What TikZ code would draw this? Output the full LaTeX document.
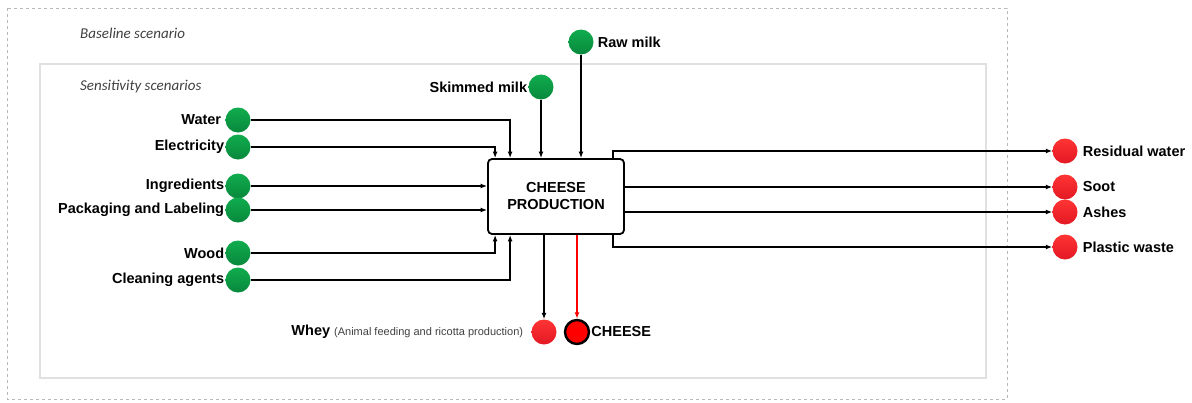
\documentclass[tikz,border=0pt]{standalone}
\usepackage{fontspec}
\setmainfont{Liberation Sans}
\newfontfamily\scenfont{Carlito}
\usetikzlibrary{arrows.meta,calc,positioning}
\definecolor{ingreen}{RGB}{16,172,78}
\definecolor{ingreendk}{RGB}{8,136,60}
\definecolor{outred}{RGB}{255,52,52}
\definecolor{outreddk}{RGB}{226,24,36}
\tikzstyle{inp} = [circle, minimum size=25pt, inner sep=0pt, top color=ingreen, bottom color=ingreendk]
\tikzstyle{outp} = [circle, minimum size=25pt, inner sep=0pt, top color=outred, bottom color=outreddk]
\tikzstyle{lbl} = [font=\fontsize{14.5}{17}\selectfont\bfseries, inner sep=1pt]
\tikzstyle{scen} = [anchor=west, inner sep=0pt, text=black!75, font=\scenfont\itshape\fontsize{15}{18}\selectfont]
\tikzstyle{arrow} = [line width=1.8pt, -{Latex[length=6.5pt,width=5pt]}]

\begin{document}
\begin{tikzpicture}[x=1pt,y=-1pt]
      \useasboundingbox (0,0) rectangle (1192,402);
      % scenario frames
      \draw[black!28, dashed, line width=0.8pt] (7,8) rectangle (1007,399);
      \draw[black!12, line width=1.1pt] (40,64) rectangle (986,378);
      \node[scen] (base) at (80,33) {Baseline scenario};
      \node[scen] (sens) at (80,87) {Sensitivity scenarios};
      % process
      \node[draw, line width=1.8pt, rounded corners=4pt, minimum width=136pt, minimum height=75pt, align=center, lbl] (prod) at (556,196.5) {CHEESE\\PRODUCTION};
      % inputs
      \node[inp] (water) at (238,120) {};
      \node[inp] (elec) at (238,147) {};
      \node[inp] (ingr) at (238,186) {};
      \node[inp] (pack) at (238,210) {};
      \node[inp] (wood) at (238,253) {};
      \node[inp] (clean) at (238,280) {};
      \node[inp] (skim) at (541,87) {};
      \node[inp] (raw) at (581,42) {};
      \node[lbl, left=3pt of water] (lwater) {Water};
      \node[lbl, left=0pt of elec] (lelec) {Electricity};
      \node[lbl, left=0pt of ingr] (lingr) {Ingredients};
      \node[lbl, left=0pt of pack] (lpack) {Packaging and Labeling};
      \node[lbl, left=0pt of wood] (lwood) {Wood};
      \node[lbl, left=0pt of clean] (lclean) {Cleaning agents};
      \node[lbl, left=0pt of skim] (lskim) {Skimmed milk};
      \node[lbl, right=3pt of raw] (lraw) {Raw milk};
      % outputs
      \node[outp] (resid) at (1065,151) {};
      \node[outp] (soot) at (1065,187) {};
      \node[outp] (ashes) at (1065,212) {};
      \node[outp] (plastic) at (1065,247) {};
      \node[outp] (whey) at (544,332) {};
      \node[circle, minimum size=24pt, inner sep=0pt, fill=red, draw=black, line width=2.4pt] (cheese) at (577,332) {};
      \node[lbl, right=4pt of resid] (lresid) {Residual water};
      \node[lbl, right=4pt of soot] (lsoot) {Soot};
      \node[lbl, right=4pt of ashes] (lashes) {Ashes};
      \node[lbl, right=4pt of plastic] (lplastic) {Plastic waste};
      \node[lbl, left=7pt of whey] (lwhey) {Whey\hspace{4pt}{\mdseries\fontsize{11}{13}\selectfont\color{black!75}(Animal feeding and ricotta production)}};
      \node[lbl, right=0pt of cheese] (lcheese) {CHEESE};
      % connectors in
      \draw[arrow] (water) -| ([xshift=23pt]prod.north west);
      \draw[arrow] (elec) -| ([xshift=8pt]prod.north west);
      \draw[arrow] (ingr) -- (prod.west |- ingr);
      \draw[arrow] (pack) -- (prod.west |- pack);
      \draw[arrow] (wood) -| ([xshift=8pt]prod.south west);
      \draw[arrow] (clean) -| ([xshift=23pt]prod.south west);
      \draw[arrow] (skim) -- (skim |- prod.north);
      \draw[arrow] (raw) -- (raw |- prod.north);
      % connectors out
      \draw[arrow] ([xshift=-12pt]prod.north east) |- (resid);
      \draw[arrow] (prod.east |- soot) -- (soot);
      \draw[arrow] (prod.east |- ashes) -- (ashes);
      \draw[arrow] ([xshift=-12pt]prod.south east) |- (plastic);
      \draw[arrow] (whey |- prod.south) -- (whey);
      \draw[arrow, red, line width=1.3pt] (cheese |- prod.south) -- (cheese);
\end{tikzpicture}
\end{document}
